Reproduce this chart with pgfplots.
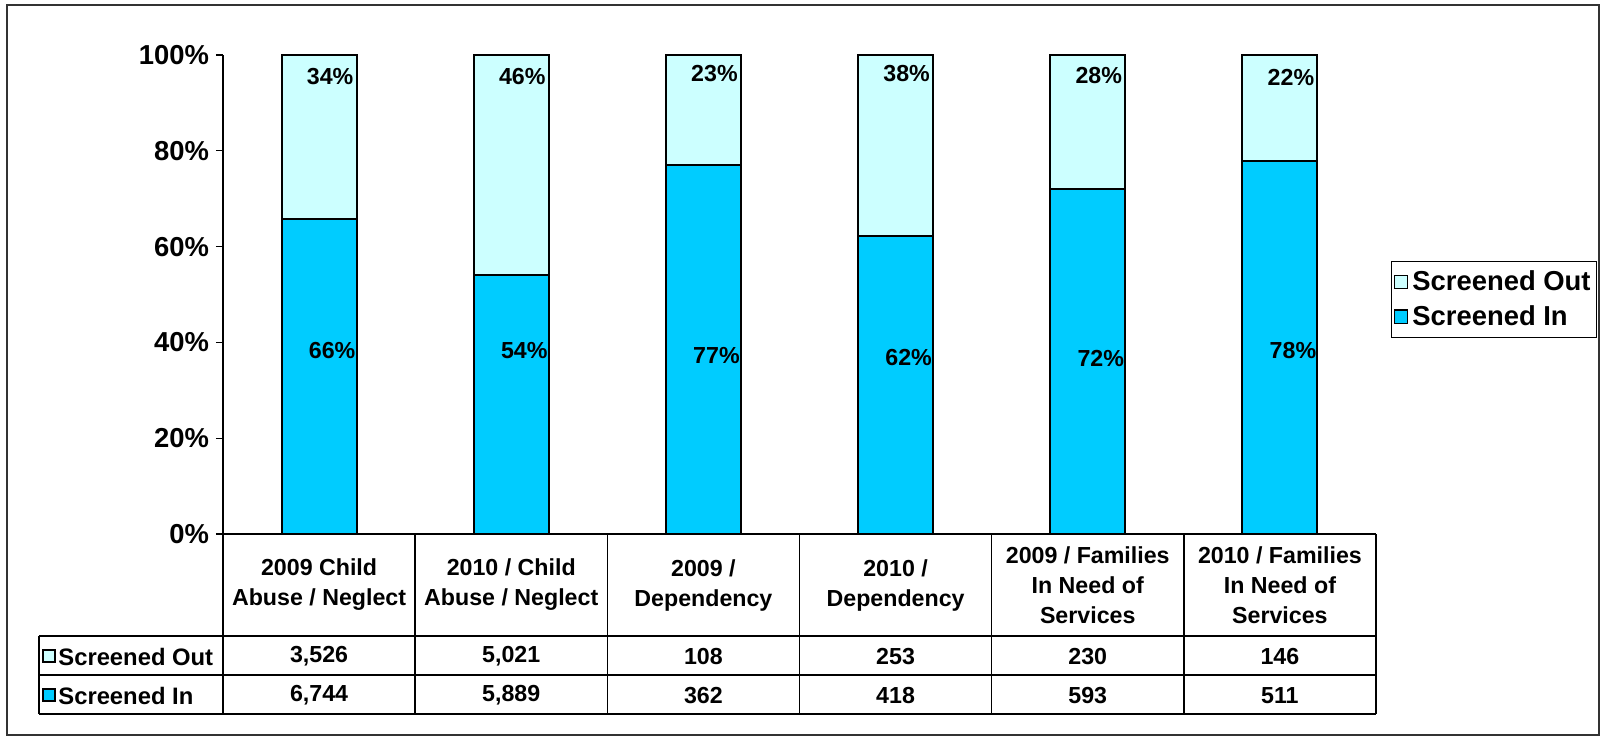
\documentclass[border=0pt]{standalone}
\usepackage{fontspec}
\setmainfont{Liberation Sans}
\usepackage{pgfplots}
\pgfplotsset{compat=1.18}
\definecolor{scrIn}{HTML}{00CCFF}
\definecolor{scrOut}{HTML}{CCFFFF}
\newcommand{\chfont}{\fontsize{11.6}{15}\selectfont\bfseries}
\newcommand{\bigfont}{\fontsize{13.7}{16}\selectfont\bfseries}

\begin{document}
\begin{tikzpicture}[font=\chfont]
\begin{axis}[
  name=ax, at={(0,0)}, anchor=south west,
  scale only axis, width=576.5pt, height=239.5pt,
  xmin=-0.5, xmax=5.5, ymin=0, ymax=100,
  ybar stacked, bar width=37.5pt,
  axis x line*=bottom, axis y line*=left,
  axis line style={-, line width=0.6pt},
  xtick=\empty,
  ytick={0,20,...,100},
  yticklabel={\pgfmathprintnumber{\tick}\%},
  /pgf/number format/assume math mode=true,
  ticklabel style={font=\bigfont},
  tick align=outside, major tick length=3.5pt,
  tick style={line width=0.6pt, black},
  clip=false,
  reverse legend,
  legend cell align=left,
  legend style={at={(1.013,0.57)}, anchor=north west, draw=black,
    line width=0.6pt, font=\bigfont, inner xsep=1pt, inner ysep=2.5pt,
    row sep=2pt},
  legend image code/.code={\draw[#1, draw=black, line width=0.6pt] (0pt,-3.4pt) rectangle (6.8pt,3.4pt);},
]
\addplot[fill=scrIn, draw=black, line width=1pt] coordinates {
  (0,65.67) (1,53.98) (2,77.02) (3,62.30) (4,72.05) (5,77.78)};
\addlegendentry{Screened In}
\addplot[fill=scrOut, draw=black, line width=1pt] coordinates {
  (0,34.33) (1,46.02) (2,22.98) (3,37.70) (4,27.95) (5,22.22)};
\addlegendentry{Screened Out}
\end{axis}

% data labels, data table and outer frame, in reference pixel units
\begin{scope}[x=0.5pt, y=-0.5pt, shift={(-223,-534)}]
  \path (0,0) rectangle (1607,740);
  \draw[line width=0.6pt, black!80] (7,5) rectangle (1599,735);
  \foreach \x/\i/\yi/\o/\yo in {319.08/66/351/34/77, 511.25/54/351/46/77,
                     703.42/77/356/23/74, 895.58/62/358/38/74,
                     1087.75/72/358/28/76, 1279.92/78/351/22/77} {
    \node at (\x+13,\yi) {\i\%};
    \node at (\x+11,\yo) {\o\%};
  }
  \begin{scope}[line width=0.7pt]
    \draw (223,534) -- (1376,534);
    \draw (39,636) -- (1376,636);
    \draw (39,675) -- (1376,675);
    \draw (39,714) -- (1376,714);
    \draw (39,636) -- (39,714);
    \foreach \x in {223,415.17,607.33,799.5,991.67,1183.83,1376}
      \draw (\x,534) -- (\x,714);
  \end{scope}
  \foreach \x/\t in {319.08/{2009 Child\\Abuse / Neglect},
                     511.25/{2010 / Child\\Abuse / Neglect},
                     703.42/{2009 /\\Dependency},
                     895.58/{2010 /\\Dependency},
                     1087.75/{2009 / Families\\In Need of\\Services},
                     1279.92/{2010 / Families\\In Need of\\Services}}
    \node[align=center, inner sep=0pt] at (\x,585) {\t};
  \foreach \x/\a/\b in {319.08/{3,526}/{6,744}, 511.25/{5,021}/{5,889},
                        703.42/108/362, 895.58/253/418,
                        1087.75/230/593, 1279.92/146/511} {
    \node at (\x,656.5) {\a};
    \node at (\x,695.5) {\b};
  }
  \draw[fill=scrOut, line width=0.6pt] (43,650) rectangle (55,662);
  \draw[fill=scrIn, line width=0.6pt] (43,689) rectangle (55,701);
  \node[anchor=west, inner sep=0pt, font=\fontsize{11.9}{14}\selectfont\bfseries] at (58,657) {Screened Out};
  \node[anchor=west, inner sep=0pt, font=\fontsize{11.9}{14}\selectfont\bfseries] at (58,696) {Screened In};
\end{scope}
\end{tikzpicture}
\end{document}
